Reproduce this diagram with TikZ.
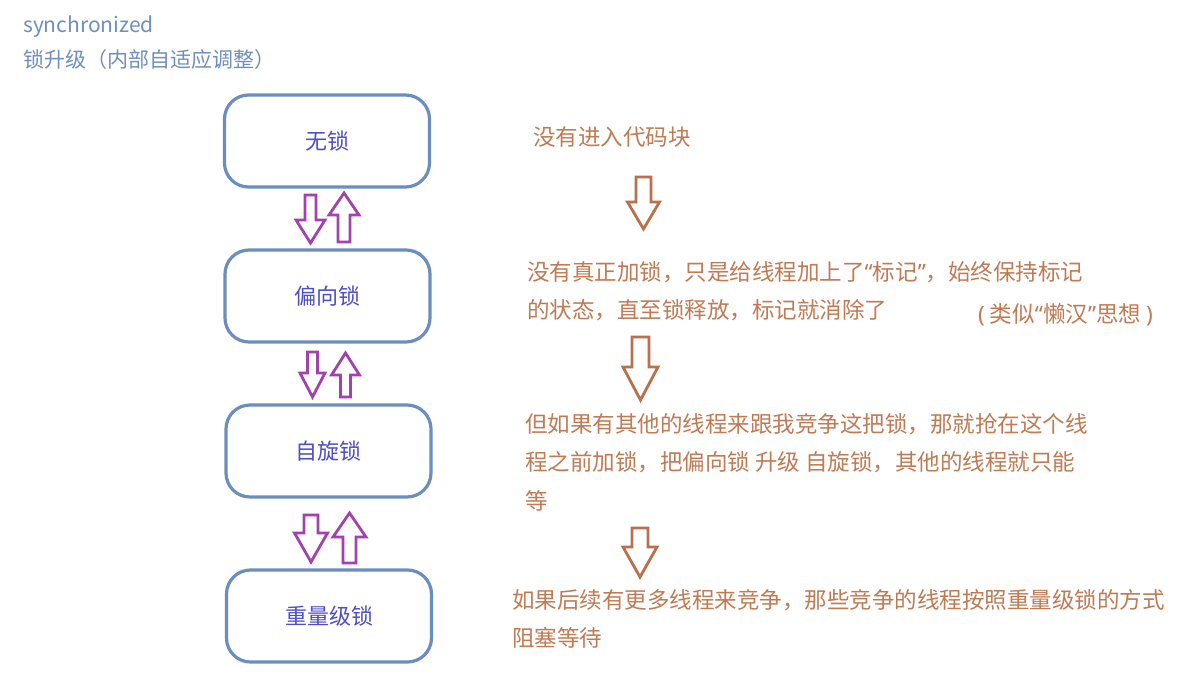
\documentclass[tikz,border=0pt]{standalone}
\usepackage{fontspec}
\setmainfont{Noto Sans CJK SC}
\newfontfamily\latinquote{Noto Sans}
\usetikzlibrary{positioning}
\definecolor{titleblue}{RGB}{112,142,190}
\definecolor{boxblue}{RGB}{108,142,191}
\definecolor{labelblue}{RGB}{78,78,200}
\definecolor{swappurple}{RGB}{162,66,172}
\definecolor{notebrown}{RGB}{192,122,84}
\definecolor{stepbrown}{RGB}{186,112,76}
\tikzset{lockbox/.style = {draw = boxblue, line width = 3.2, rounded corners = 24,
    minimum width = 205, minimum height = 92, text = labelblue,
    font = \fontsize{22}{26}\selectfont}}
\tikzset{note/.style = {anchor = north west, inner sep = 0, align = left,
    text = notebrown, font = \fontsize{22.5}{38.5}\selectfont}}
\tikzset{swaparrow/.style = {draw = swappurple, line width = 2.8, fill = white}}
\tikzset{steparrow/.style = {draw = stepbrown, line width = 2.8, fill = white}}
% narrow quotes and parentheses
\newcommand{\openq}{{\latinquote “}}
\newcommand{\closeq}{{\latinquote ”}}
\newcommand{\openp}{{\latinquote (}\kern5pt}
\newcommand{\closep}{\kern5pt{\latinquote )}}
% style, centre x, start y, head base y, tip y, half shaft, half head
\newcommand{\blockarrow}[7]{%
  \draw[#1] (#2-#6, #3) -- (#2+#6, #3) -- (#2+#6, #4) -- (#2+#7, #4)
    -- (#2, #5) -- (#2-#7, #4) -- (#2-#6, #4) -- cycle;}

\begin{document}
\begin{tikzpicture}[x = 1pt, y = -1pt]
      \useasboundingbox [fill = white] (0, 0) rectangle (1200, 690);

      \node [anchor = west, inner sep = 0, text = titleblue, font = \fontsize{21}{25}\selectfont]
        (title) at (23, 27) {synchronized};
      \node [anchor = west, inner sep = 0, text = titleblue, font = \fontsize{21}{25}\selectfont]
        (subtitle) at (23, 60) {锁升级（内部自适应调整）};

      \node [lockbox] (nolock) at (327, 141) {无锁};
      \node [lockbox] (biased) at (327.5, 296) {偏向锁};
      \node [lockbox] (spin) at (328.5, 451) {自旋锁};
      \node [lockbox] (heavy) at (329, 616) {重量级锁};

      \blockarrow{swaparrow}{310.5}{195}{220}{243}{5.5}{14.5}
      \blockarrow{swaparrow}{344}{242}{215}{193}{6}{15}
      \blockarrow{swaparrow}{312.5}{352}{373}{397}{5}{12.5}
      \blockarrow{swaparrow}{345.5}{397}{375}{353}{5}{14}
      \blockarrow{swaparrow}{311}{515}{533}{562}{7}{16.5}
      \blockarrow{swaparrow}{349.5}{563}{537}{513}{6.5}{16.5}

      \node [note] (nolocknote) at (533, 126) {没有进入代码块};
      \node [note] (biasednote) at (527, 261)
        {没有真正加锁，只是给线程加上了\openq 标记\closeq ，始终保持标记\\的状态，直至锁释放，标记就消除了};
      \node [note] (lazynote) at (978, 303) {\openp 类似\openq 懒汉\closeq 思想\closep};
      \node [note] (spinnote) at (525, 413)
        {但如果有其他的线程来跟我竞争这把锁，那就抢在这个线\\程之前加锁，把偏向锁 升级 自旋锁，其他的线程就只能\\等};
      \node [note] (heavynote) at (512, 589)
        {如果后续有更多线程来竞争，那些竞争的线程按照重量级锁的方式\\阻塞等待};

      \blockarrow{steparrow}{643.5}{177}{202}{229}{7.5}{16}
      \blockarrow{steparrow}{640.5}{337}{367}{400}{8.5}{17.5}
      \blockarrow{steparrow}{640}{528}{547}{577}{8}{17}
    \end{tikzpicture}
\end{document}
